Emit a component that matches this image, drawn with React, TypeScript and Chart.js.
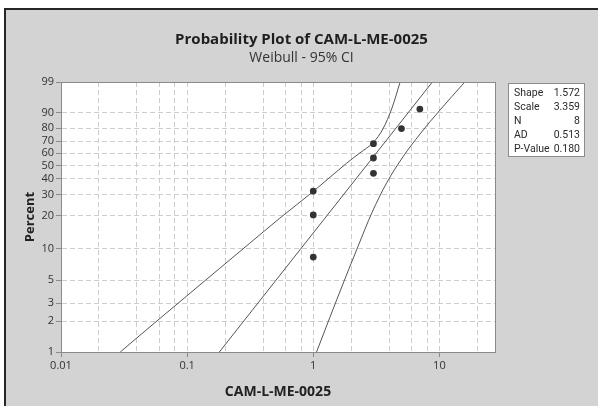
import React, { useEffect, useRef } from 'react';
import { Chart, registerables, Scale } from 'chart.js';

Chart.register(...registerables);

// ---------- data ----------
const FAILURE_X = [1, 1, 1, 3, 3, 3, 5, 7];
const FAILURE_PCT = [8.3, 20.2, 32.1, 44.0, 56.0, 67.9, 79.8, 91.7];

const FIT_X = [0.18, 8.8];
const FIT_PCT = [1, 99];

const CI_LEFT_X = [0.0295, 0.0553, 0.0993, 0.1815, 0.314, 0.543, 1.0, 1.84, 2.343, 2.99, 3.565, 4.207, 4.86];
const CI_LEFT_PCT = [1.0, 1.93, 3.52, 6.5, 11.2, 18.9, 31.9, 51.8, 60.2, 68.9, 79.5, 92.2, 98.9];

const CI_RIGHT_X = [1.062, 1.354, 1.75, 2.26, 2.917, 3.82, 5.14, 7.02, 10.12, 15.67];
const CI_RIGHT_PCT = [1.0, 2.18, 4.85, 10.4, 21.1, 37.3, 56.9, 75.7, 91.3, 98.9];

const X_GRID_TICKS = [0.01, 0.02, 0.04, 0.06, 0.08, 0.1, 0.2, 0.4, 0.6, 0.8, 1, 2, 4, 6, 8, 10, 20];
const X_LABELED = [0.01, 0.1, 1, 10];
const Y_TICKS = [1, 2, 3, 5, 10, 20, 30, 40, 50, 60, 70, 80, 90, 99];

const STAT_NAMES = ['Shape', 'Scale', 'N', 'AD', 'P-Value'];
const STAT_VALUES = ['1.572', '3.359', '8', '0.513', '0.180'];

const TITLE = 'Probability Plot of CAM-L-ME-0025';
const SUBTITLE = 'Weibull - 95% CI';
const X_TITLE = 'CAM-L-ME-0025';
const Y_TITLE = 'Percent';

// ---------- style ----------
const FONT = '"Open Sans", "Noto Sans", sans-serif';
const NARROW = '"Liberation Sans Narrow", Roboto, sans-serif';
const PANEL = '#d3d3d3';
const AXIS = '#8a8a8a';
const GRID = '#cdcdcd';
const CURVE = '#555555';
const TEXT = '#2a2a2a';
const NONE = 'rgba(0,0,0,0)';

// Weibull probability scale: pixel ~ ln(-ln(1-p))
const toW = (p: number) => Math.log(-Math.log(1 - p / 100));

class WeibullScale extends Scale {
  static id = 'weibull';
  static defaults = {};
  determineDataLimits() {
    const { min, max } = (this as any).getMinMax(true);
    const o: any = this.options;
    this.min = o.min ?? min;
    this.max = o.max ?? max;
  }
  buildTicks() {
    return [];
  }
  getLabelForValue(v: number) {
    return String(v);
  }
  getPixelForValue(v: number) {
    const a = toW(this.min);
    const b = toW(this.max);
    return this.getPixelForDecimal((toW(v) - a) / (b - a));
  }
  getValueForPixel(px: number) {
    const a = toW(this.min);
    const b = toW(this.max);
    const w = a + this.getDecimalForPixel(px) * (b - a);
    return 100 * (1 - Math.exp(-Math.exp(w)));
  }
}
Chart.register(WeibullScale as any);

const pts = (xs: number[], ys: number[]) => xs.map((x, i) => ({ x, y: ys[i] }));

const decorPlugin = {
  id: 'decor',
  beforeDraw(chart: any) {
    const { ctx, width, height, chartArea: a } = chart;
    ctx.save();
    ctx.fillStyle = '#ffffff';
    ctx.fillRect(0, 0, width, height);
    ctx.fillStyle = PANEL;
    ctx.fillRect(4, 8, width - 4, height - 8);
    ctx.fillStyle = '#262626';
    ctx.fillRect(4, 8, width - 4, 2);
    ctx.fillRect(4, 8, 2, height - 8);
    ctx.fillStyle = '#ffffff';
    ctx.fillRect(a.left, a.top, a.right - a.left, a.bottom - a.top);
    ctx.restore();
  },
  afterDraw(chart: any) {
    const { ctx, chartArea: a } = chart;
    const al = (v: number) => Math.round(v - 0.5) + 0.5;
    ctx.save();
    // plot frame
    ctx.strokeStyle = AXIS;
    ctx.lineWidth = 1;
    ctx.strokeRect(al(a.left), al(a.top), al(a.right) - al(a.left), al(a.bottom) - al(a.top));
    // titles
    ctx.fillStyle = '#1e1e1e';
    ctx.textAlign = 'center';
    ctx.textBaseline = 'alphabetic';
    ctx.font = `bold 15px ${FONT}`;
    ctx.fillText(TITLE, 301.5, 44);
    ctx.fillStyle = '#333333';
    ctx.font = `14px ${FONT}`;
    ctx.fillText(SUBTITLE, 301.5, 62);
    // stats box
    const bx = 508.5, by = 83.5, bw = 76, bh = 73;
    ctx.fillStyle = '#ffffff';
    ctx.fillRect(bx, by, bw, bh);
    ctx.strokeStyle = '#8c8c8c';
    ctx.strokeRect(bx, by, bw, bh);
    ctx.fillStyle = TEXT;
    ctx.font = `10.5px ${NARROW}`;
    ctx.textBaseline = 'middle';
    STAT_NAMES.forEach((n, i) => {
      const y = 93 + i * 14;
      ctx.textAlign = 'left';
      ctx.fillText(n, 514, y);
      ctx.textAlign = 'right';
      ctx.fillText(STAT_VALUES[i], 580, y);
    });
    ctx.restore();
  },
};

export default function App() {
  const ref = useRef<HTMLCanvasElement | null>(null);
  useEffect(() => {
    document.body.style.margin = '0';
    const canvas = ref.current!;
    const chart = new Chart(canvas, {
      type: 'scatter',
      data: {
        datasets: [
          {
            label: 'data',
            data: pts(FAILURE_X, FAILURE_PCT),
            pointRadius: 3.4,
            pointBackgroundColor: '#333333',
            pointBorderWidth: 0,
            showLine: false,
            order: 0,
          },
          {
            label: 'fit',
            data: pts(FIT_X, FIT_PCT),
            showLine: true,
            pointRadius: 0,
            borderColor: CURVE,
            borderWidth: 1,
            order: 1,
          },
          {
            label: 'ci-left',
            data: pts(CI_LEFT_X, CI_LEFT_PCT),
            showLine: true,
            pointRadius: 0,
            borderColor: CURVE,
            borderWidth: 1,
            cubicInterpolationMode: 'monotone',
            order: 1,
          },
          {
            label: 'ci-right',
            data: pts(CI_RIGHT_X, CI_RIGHT_PCT),
            showLine: true,
            pointRadius: 0,
            borderColor: CURVE,
            borderWidth: 1,
            cubicInterpolationMode: 'monotone',
            order: 1,
          },
        ],
      },
      options: {
        animation: false,
        responsive: false,
        devicePixelRatio: 1,
        layout: { padding: { left: 0, top: 82, right: 103, bottom: 0 } },
        plugins: { legend: { display: false }, tooltip: { enabled: false }, title: { display: false } },
        scales: {
          x: {
            type: 'logarithmic',
            min: 0.01,
            max: 27.6,
            afterBuildTicks: (s: any) => {
              s.ticks = X_GRID_TICKS.map((v) => ({ value: v }));
            },
            afterFit: (s: any) => {
              s.height = 54;
            },
            ticks: {
              autoSkip: false,
              maxRotation: 0,
              padding: 2,
              color: '#333333',
              font: { family: FONT, size: 11 },
              callback: (v: any) => (X_LABELED.includes(v) ? String(v) : ''),
            },
            grid: {
              color: (c: any) => (c.tick && c.tick.value > 0.01 ? GRID : NONE),
              tickColor: (c: any) => (c.tick && X_LABELED.includes(c.tick.value) ? AXIS : NONE),
              tickLength: 5,
              lineWidth: 1,
            },
            border: { display: true, color: AXIS, width: 1, dash: [5, 3] },
            title: {
              display: true,
              text: X_TITLE,
              color: '#222222',
              font: { family: FONT, size: 14, weight: 'bold' },
              padding: { top: 0, bottom: 6 },
            },
          },
          y: {
            type: 'weibull' as any,
            position: 'left',
            min: 1,
            max: 99,
            afterBuildTicks: (s: any) => {
              s.ticks = Y_TICKS.map((v) => ({ value: v }));
            },
            afterFit: (s: any) => {
              s.width = 61;
            },
            ticks: {
              autoSkip: false,
              padding: 2,
              color: '#333333',
              font: { family: FONT, size: 11 },
              callback: (v: any) => String(v),
            },
            grid: {
              color: (c: any) => (c.tick && c.tick.value > 1 && c.tick.value < 99 ? GRID : NONE),
              tickColor: AXIS,
              tickLength: 5,
              lineWidth: 1,
            },
            border: { display: true, color: AXIS, width: 1, dash: [5, 3] },
            title: {
              display: true,
              text: Y_TITLE,
              color: '#222222',
              font: { family: FONT, size: 13, weight: 'bold' },
              padding: { top: 22, bottom: 0 },
            },
          } as any,
        },
      },
      plugins: [decorPlugin],
    } as any);
    return () => chart.destroy();
  }, []);
  return (
    <div style={{ width: 598, height: 406 }}>
      <canvas ref={ref} width={598} height={406} style={{ display: 'block' }} />
    </div>
  );
}
